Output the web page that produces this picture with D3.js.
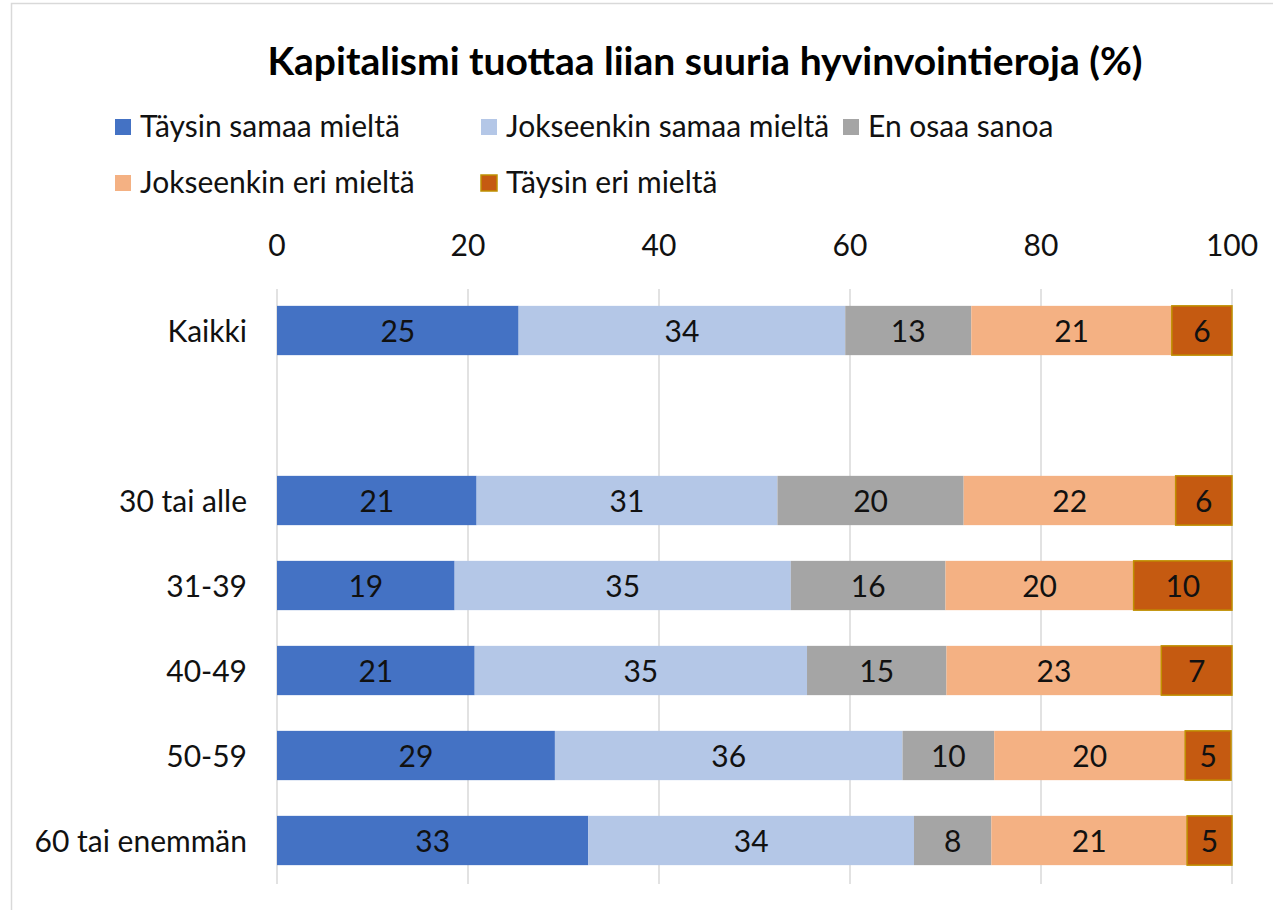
<!DOCTYPE html>
<html>
<head>
<meta charset="utf-8">
<script src="https://cdn.jsdelivr.net/npm/d3@7"></script>
<style>
  body { margin: 0; background: #fff; }
  svg { display: block; font-family: Lato, "Open Sans", sans-serif; }
</style>
</head>
<body>
<svg id="chart" width="1273" height="910"></svg>
<script>
// data
const categories = ["Kaikki", "", "30 tai alle", "31-39", "40-49", "50-59", "60 tai enemmän"];
const seriesNames = ["Täysin samaa mieltä", "Jokseenkin samaa mieltä", "En osaa sanoa", "Jokseenkin eri mieltä", "Täysin eri mieltä"];
const tayssamaa = [25.3, null, 20.9, 18.6, 20.7, 29.1, 32.6];
const jokssamaa = [34.2, null, 31.5, 35.2, 34.8, 36.4, 34.1];
const eos       = [13.2, null, 19.5, 16.2, 14.6, 9.6, 8.1];
const jokseri   = [21.0, null, 22.2, 19.7, 22.5, 20.0, 20.5];
const tayseri   = [6.3, null, 5.9, 10.3, 7.4, 4.8, 4.7];
const labels = [
  [25, null, 21, 19, 21, 29, 33],
  [34, null, 31, 35, 35, 36, 34],
  [13, null, 20, 16, 15, 10, 8],
  [21, null, 22, 20, 23, 20, 21],
  [6, null, 6, 10, 7, 5, 5]
];
const xTicks = [0, 20, 40, 60, 80, 100];
const colors = ["#4472C4", "#B4C7E7", "#A5A5A5", "#F4B183", "#C55A11"];

const series = [tayssamaa, jokssamaa, eos, jokseri, tayseri];

const svg = d3.select("#chart");

// kehys
svg.append("rect")
  .attr("x", 11.5).attr("y", 3.5)
  .attr("width", 1300).attr("height", 950)
  .attr("fill", "none").attr("stroke", "#D9D9D9").attr("stroke-width", 1.5);

const x = d3.scaleLinear().domain([0, 100]).range([277, 1232]);
const y = d3.scaleBand().domain(d3.range(categories.length)).range([288, 883]).paddingInner(0.42).paddingOuter(0.21);

// otsikko
svg.append("text")
  .attr("x", 705).attr("y", 75)
  .attr("text-anchor", "middle")
  .attr("font-size", 39).attr("font-weight", "bold")
  .text("Kapitalismi tuottaa liian suuria hyvinvointieroja (%)");

// selite
const legendPos = [[115, 127], [481, 127], [843, 127], [115, 183], [481, 183]];
seriesNames.forEach((name, i) => {
  const g = svg.append("g").attr("transform", `translate(${legendPos[i][0]},${legendPos[i][1]})`);
  g.append("rect")
    .attr("x", 0).attr("y", -8).attr("width", 16).attr("height", 16)
    .attr("fill", colors[i])
    .attr("stroke", i === 4 ? "#BF9000" : "none").attr("stroke-width", 1.5);
  g.append("text")
    .attr("x", 25).attr("y", 10)
    .attr("font-size", 30).attr("fill", "#111")
    .text(name);
});

// ruudukko
svg.append("g").selectAll("line")
  .data(xTicks)
  .join("line")
  .attr("x1", d => x(d)).attr("x2", d => x(d))
  .attr("y1", 289).attr("y2", 884)
  .attr("stroke", "#D9D9D9").attr("stroke-width", 1.5);

// x-akseli ylhäällä
svg.append("g").selectAll("text")
  .data(xTicks)
  .join("text")
  .attr("x", d => x(d)).attr("y", 256)
  .attr("text-anchor", "middle")
  .attr("font-size", 30).attr("fill", "#111")
  .text(d => d);

// kategoriat
svg.append("g").selectAll("text")
  .data(categories)
  .join("text")
  .attr("x", 247).attr("y", (d, i) => y(i) + y.bandwidth() / 2 + 11)
  .attr("text-anchor", "end")
  .attr("font-size", 30).attr("fill", "#111")
  .text(d => d);

// pinotut palkit
const rows = categories.map((c, i) => {
  let acc = 0;
  return series.map((s, j) => {
    const v = s[i];
    const seg = { row: i, s: j, x0: acc, x1: acc + (v || 0), v: v, label: labels[j][i] };
    acc += v || 0;
    return seg;
  });
}).flat().filter(d => d.v != null);

svg.append("g").selectAll("rect")
  .data(rows)
  .join("rect")
  .attr("x", d => x(d.x0))
  .attr("y", d => y(d.row))
  .attr("width", d => x(d.x1) - x(d.x0))
  .attr("height", y.bandwidth())
  .attr("fill", d => colors[d.s])
  .attr("stroke", d => d.s === 4 ? "#BF9000" : "none")
  .attr("stroke-width", 1.5);

svg.append("g").selectAll("text")
  .data(rows)
  .join("text")
  .attr("x", d => (x(d.x0) + x(d.x1)) / 2)
  .attr("y", d => y(d.row) + y.bandwidth() / 2 + 11)
  .attr("text-anchor", "middle")
  .attr("font-size", 30).attr("fill", "#111")
  .text(d => d.label);
</script>
</body>
</html>
